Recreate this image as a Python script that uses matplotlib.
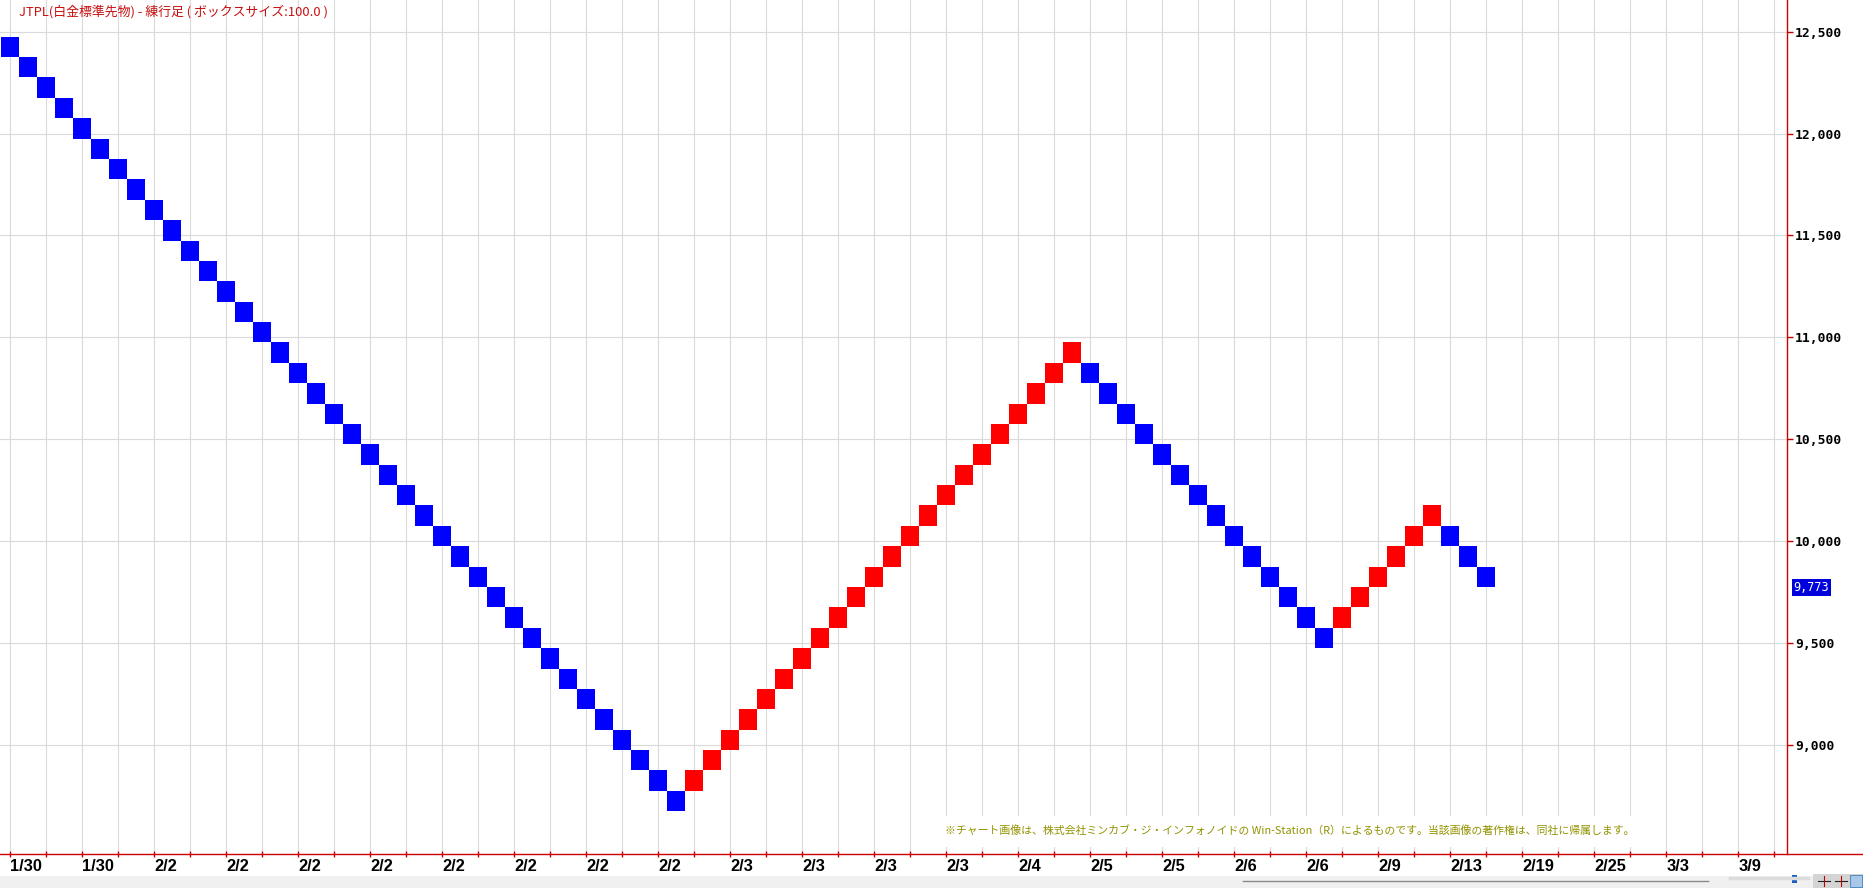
import numpy as np
import matplotlib
matplotlib.use("Agg")
import matplotlib.pyplot as plt
import matplotlib.transforms as mtrans
from matplotlib.patches import Rectangle
from matplotlib.lines import Line2D
from matplotlib.ticker import FuncFormatter

# データ (練行足, ボックスサイズ 100)
box_size = 100
leg_first_low = [12375, 8775, 10775, 9575, 9975]   # 各レグ最初のブロック下端
leg_last_low = [8675, 10875, 9475, 10075, 9775]    # 各レグ最後のブロック下端
last_price = 9773
price_ticks = [9000, 9500, 10000, 10500, 11000, 11500, 12000, 12500]
date_labels = ["1/30", "1/30",
               "2/2", "2/2", "2/2", "2/2", "2/2", "2/2", "2/2", "2/2",
               "2/3", "2/3", "2/3", "2/3", "2/4", "2/5", "2/5", "2/6", "2/6",
               "2/9", "2/13", "2/19", "2/25", "3/3", "3/9"]

UP = "#ff0000"
DOWN = "#0000ff"
RED = "#c80000"
W, H = 1863, 888

# ブロック作成
brick_x, brick_low, brick_col = [], [], []
col = 0
for first, last in zip(leg_first_low, leg_last_low):
    step = box_size if last >= first else -box_size
    for low in range(first, last + step, step):
        brick_x.append(col)
        brick_low.append(low)
        brick_col.append(UP if step > 0 else DOWN)
        col += 1

fig = plt.figure(figsize=(W / 100, H / 100), dpi=100)
fig.patch.set_facecolor("white")
ax_bottom_px = 854
ax_right_px = 1786.7
ax = fig.add_axes([0, 1 - ax_bottom_px / H, ax_right_px / W, ax_bottom_px / H])

ax.bar(brick_x, box_size, bottom=brick_low, width=1.0, color=brick_col,
       linewidth=0, zorder=3)

ax.set_xlim(-0.58, 98.68)
ax.set_ylim(8465, 12655)

# x軸
xt = np.arange(0, 100, 2)
xlabels = ["" if k % 2 else date_labels[k // 2] for k in range(len(xt))]
ax.set_xticks(xt, xlabels)
shift = mtrans.ScaledTranslation(2 / 100, 0, fig.dpi_scale_trans)
for lbl in ax.get_xticklabels():
    lbl.set_ha("left")
    lbl.set_family(["Liberation Sans", "DejaVu Sans"])
    lbl.set_weight("bold")
    lbl.set_fontsize(11.8)
    lbl.set_transform(lbl.get_transform() + shift)
ax.tick_params(axis="x", direction="inout", length=5, width=1, color=RED, pad=1)

# y軸 (右)
ax.yaxis.tick_right()
ax.set_yticks(price_ticks)
ax.yaxis.set_major_formatter(FuncFormatter(lambda v, p: f"{int(v):,}"))
for lbl in ax.get_yticklabels():
    lbl.set_family("DejaVu Sans Mono")
    lbl.set_weight("bold")
    lbl.set_fontsize(9.4)
ax.tick_params(axis="y", direction="out", length=4, width=1, color=RED, pad=2)

ax.grid(True, color="#dadada", linewidth=0.8)
ax.set_axisbelow(True)
for s in ["top", "left", "bottom"]:
    ax.spines[s].set_visible(False)
ax.spines["right"].set_color(RED)
ax.spines["right"].set_linewidth(1.0)

# 下の軸線 (右端まで)
fig.add_artist(Line2D([0, 1], [1 - ax_bottom_px / H] * 2, color=RED, linewidth=1.0,
                      transform=fig.transFigure))

# タイトル
ax.text(19 / ax_right_px, 1 - 11.7 / ax_bottom_px,
        "JTPL(白金標準先物) - 練行足 ( ボックスサイズ:100.0 )",
        transform=ax.transAxes, ha="left", va="center", color="#c81010",
        fontsize=9.3, family=["Noto Sans CJK JP", "DejaVu Sans"])

# 著作権表示
ax.add_patch(Rectangle((940 / ax_right_px, (854 - 847) / ax_bottom_px),
                       (1636 - 940) / ax_right_px, (847 - 816) / ax_bottom_px,
                       transform=ax.transAxes, facecolor="white", edgecolor="none",
                       zorder=1))
ax.text(945 / ax_right_px, (854 - 830) / ax_bottom_px,
        "※チャート画像は、株式会社ミンカブ・ジ・インフォノイドの Win-Station（R）によるものです。当該画像の著作権は、同社に帰属します。",
        transform=ax.transAxes, ha="left", va="center", color="#929200",
        fontsize=7.85, family=["Noto Sans CJK JP", "DejaVu Sans"], zorder=4)

# 現在値ラベル
ax.annotate(f"{last_price:,}", xy=(1, last_price), xycoords=("axes fraction", "data"),
            xytext=(5, 0), textcoords="offset points", ha="left", va="center",
            color="white", fontsize=8.5, family="DejaVu Sans Mono",
            bbox=dict(boxstyle="square,pad=0.15", fc="#0000dd", ec="none"),
            annotation_clip=False)

# 下部のスクロールバー領域
fig.add_artist(Rectangle((0, 0), 1, 12 / H, transform=fig.transFigure,
                         facecolor="#f0f0f0", edgecolor="none", zorder=0))
fig.add_artist(Line2D([1243 / W, 1708 / W], [7 / H, 7 / H], color="#8a8a8a",
                      linewidth=1.0, transform=fig.transFigure))
fig.add_artist(Line2D([1730 / W, 1808 / W], [10 / H, 10 / H], color="#dcdcdc",
                      linewidth=2.5, transform=fig.transFigure))
fig.add_artist(Rectangle((1792 / W, 5 / H), 5 / W, 8 / H, transform=fig.transFigure,
                         facecolor="#1a5fc0", edgecolor="none"))
fig.add_artist(Rectangle((1813 / W, 0), 50 / W, 14 / H, transform=fig.transFigure,
                         facecolor="#d4d4d4", edgecolor="none"))
for x0 in [1818, 1835]:
    fig.add_artist(Line2D([x0 / W, (x0 + 12) / W], [7 / H, 7 / H], color="#202020",
                          linewidth=0.8, transform=fig.transFigure))
    fig.add_artist(Line2D([(x0 + 6) / W] * 2, [2 / H, 12 / H], color="#c00000",
                          linewidth=0.8, transform=fig.transFigure))
fig.add_artist(Rectangle((1850 / W, 1 / H), 12 / W, 12 / H, transform=fig.transFigure,
                         facecolor="#a8c8e8", edgecolor="#4080c0", linewidth=0.6))

fig.savefig("out.png", dpi=100, facecolor="white")
